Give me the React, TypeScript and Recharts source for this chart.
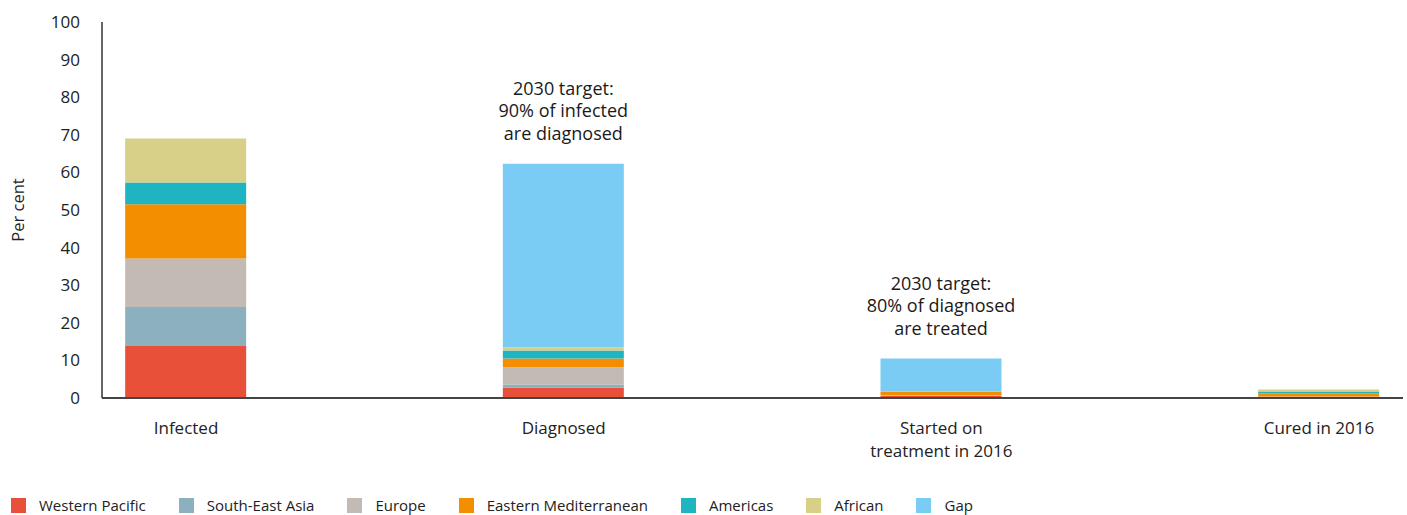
import React from "react";
import {
  BarChart,
  Bar,
  XAxis,
  YAxis,
  Legend,
  LabelList,
} from "recharts";

const categories = [
  "Infected",
  "Diagnosed",
  "Started on\ntreatment in 2016",
  "Cured in 2016",
];

const westernPacific = [13.8, 2.8, 0.5, 0.3];
const southEastAsia = [10.4, 0.8, 0.1, 0.05];
const europe = [12.9, 4.6, 0.1, 0.05];
const easternMediterranean = [14.4, 2.3, 1.0, 0.8];
const americas = [5.8, 2.1, 0.05, 0.5];
const african = [11.7, 0.9, 0.05, 0.55];
const gap = [0, 48.8, 8.7, 0];

const targetNotes = [
  "",
  "2030 target:\n90% of infected\nare diagnosed",
  "2030 target:\n80% of diagnosed\nare treated",
  "",
];

const yTicks = [0, 10, 20, 30, 40, 50, 60, 70, 80, 90, 100];

const SERIES = [
  { key: "westernPacific", name: "Western Pacific", color: "#E8503A" },
  { key: "southEastAsia", name: "South-East Asia", color: "#8DB0BF" },
  { key: "europe", name: "Europe", color: "#C3BAB3" },
  { key: "easternMediterranean", name: "Eastern Mediterranean", color: "#F28E00" },
  { key: "americas", name: "Americas", color: "#1EB4C1" },
  { key: "african", name: "African", color: "#D8D088" },
  { key: "gap", name: "Gap", color: "#7ACCF4" },
];

const FONT = "'Open Sans', 'Noto Sans', sans-serif";

const chartData = categories.map((category, i) => ({
  category,
  westernPacific: westernPacific[i],
  southEastAsia: southEastAsia[i],
  europe: europe[i],
  easternMediterranean: easternMediterranean[i],
  americas: americas[i],
  african: african[i],
  gap: gap[i],
  note: targetNotes[i],
}));

function CategoryTick({ x, y, payload }: any) {
  const lines = String(payload.value).split("\n");
  return (
    <text
      x={x}
      y={y}
      textAnchor="middle"
      fontFamily={FONT}
      fontSize={17}
      fill="#222"
    >
      {lines.map((line, i) => (
        <tspan key={i} x={x} dy={i === 0 ? 34 : 23}>
          {line}
        </tspan>
      ))}
    </text>
  );
}

function NoteLabel({ x, y, width, value }: any) {
  if (!value) return null;
  const lines = String(value).split("\n");
  const cx = x + width / 2;
  const lineH = 22.5;
  const lastY = y - 24;
  return (
    <text textAnchor="middle" fontFamily={FONT} fontSize={18} fill="#1a1a1a">
      {lines.map((line, i) => (
        <tspan key={i} x={cx} y={lastY - (lines.length - 1 - i) * lineH}>
          {line}
        </tspan>
      ))}
    </text>
  );
}

function YTitle({ viewBox }: any) {
  const cy = viewBox.y + viewBox.height / 2;
  return (
    <text
      x={17}
      y={cy}
      transform={`rotate(-90, 17, ${cy})`}
      textAnchor="middle"
      dominantBaseline="central"
      fontFamily={FONT}
      fontSize={16.5}
      fill="#222"
    >
      Per cent
    </text>
  );
}

function LegendRow() {
  return (
    <div
      style={{
        display: "flex",
        alignItems: "center",
        height: 20,
        paddingLeft: 11,
        fontFamily: FONT,
        fontSize: 15,
        color: "#222",
      }}
    >
      {SERIES.map((s) => (
        <div
          key={s.key}
          style={{ display: "flex", alignItems: "center", marginRight: 33 }}
        >
          <span
            style={{
              display: "inline-block",
              width: 15,
              height: 15,
              background: s.color,
              marginRight: 13,
            }}
          />
          <span>{s.name}</span>
        </div>
      ))}
    </div>
  );
}

export default function App() {
  return (
    <div style={{ position: "absolute", left: 0, top: 0, background: "#fff" }}>
      <BarChart
        width={1407}
        height={515}
        data={chartData}
        margin={{ top: 22, right: 4, left: 0, bottom: 0 }}
      >
        <XAxis
          dataKey="category"
          scale="point"
          padding={{ left: 84, right: 84 }}
          height={97}
          tickLine={false}
          tickSize={0}
          axisLine={{ stroke: "#444", strokeWidth: 2 }}
          tick={<CategoryTick />}
          interval={0}
        />
        <YAxis
          domain={[0, 100]}
          ticks={yTicks}
          width={102}
          tickLine={false}
          tickSize={0}
          tickMargin={22}
          axisLine={{ stroke: "#333", strokeWidth: 1.5 }}
          tick={{ fontFamily: FONT, fontSize: 17, fill: "#222" }}
          label={<YTitle />}
        />
        <Legend
          verticalAlign="bottom"
          align="left"
          content={() => <LegendRow />}
          wrapperStyle={{ left: 0, width: 1407, height: 20 }}
        />
        {SERIES.map((s) => (
          <Bar
            key={s.key}
            dataKey={s.key}
            name={s.name}
            stackId="a"
            fill={s.color}
            barSize={121}
            isAnimationActive={false}
          >
            {s.key === "gap" && (
              <LabelList dataKey="note" content={<NoteLabel />} />
            )}
          </Bar>
        ))}
      </BarChart>
    </div>
  );
}
